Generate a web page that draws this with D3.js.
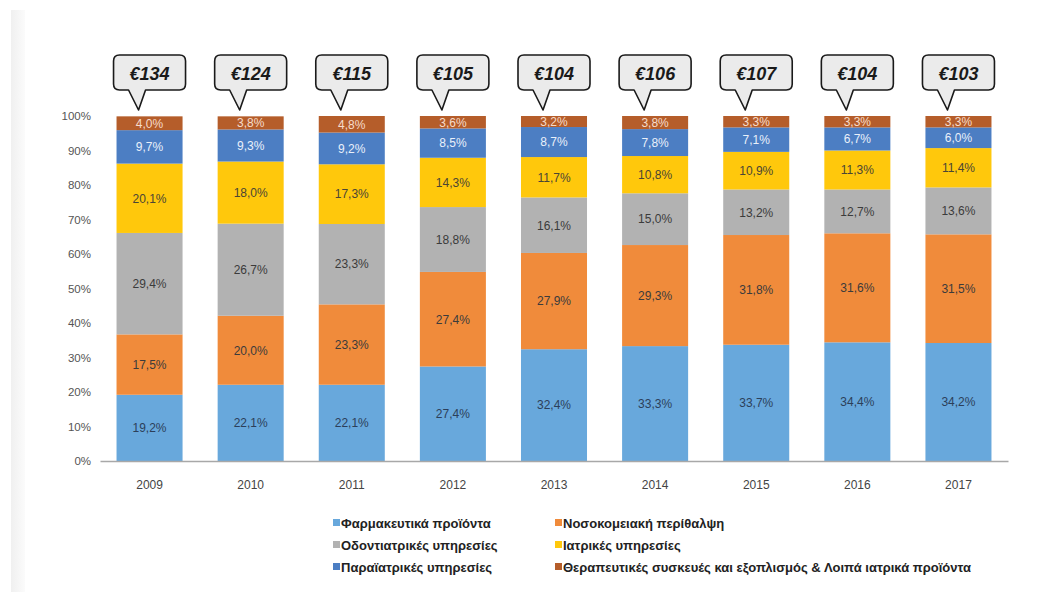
<!DOCTYPE html>
<html>
<head>
<meta charset="utf-8">
<script src="https://cdn.jsdelivr.net/npm/d3@7"></script>
<style>
  html, body { margin: 0; padding: 0; background: #fff; }
  svg { display: block; }
</style>
</head>
<body>
<svg id="chart" width="1038" height="592"></svg>
<script>
const years = ["2009","2010","2011","2012","2013","2014","2015","2016","2017"];
const perCapita = [134, 124, 115, 105, 104, 106, 107, 104, 103];
const seriesNames = [
  "Φαρμακευτικά προϊόντα",
  "Νοσοκομειακή περίθαλψη",
  "Οδοντιατρικές υπηρεσίες",
  "Ιατρικές υπηρεσίες",
  "Παραϊατρικές υπηρεσίες",
  "Θεραπευτικές συσκευές και εξοπλισμός & Λοιπά ιατρικά προϊόντα"
];
const pharma      = [19.2, 22.1, 22.1, 27.4, 32.4, 33.3, 33.7, 34.4, 34.2];
const hospital    = [17.5, 20.0, 23.3, 27.4, 27.9, 29.3, 31.8, 31.6, 31.5];
const dental      = [29.4, 26.7, 23.3, 18.8, 16.1, 15.0, 13.2, 12.7, 13.6];
const medical     = [20.1, 18.0, 17.3, 14.3, 11.7, 10.8, 10.9, 11.3, 11.4];
const paramedical = [9.7, 9.3, 9.2, 8.5, 8.7, 7.8, 7.1, 6.7, 6.0];
const therapeutic = [4.0, 3.8, 4.8, 3.6, 3.2, 3.8, 3.3, 3.3, 3.3];
const yTicks = [0, 10, 20, 30, 40, 50, 60, 70, 80, 90, 100];

const seriesValues = [pharma, hospital, dental, medical, paramedical, therapeutic];
const colors = ["#68a8dc", "#f08b3b", "#b2b2b2", "#ffc80c", "#4c7ec3", "#b55d2a"];
const labelColors = ["#2c3f5a", "#3b3b3b", "#3b3b3b", "#4a4536", "#e9f0fa", "#f6dccb"];

const keys = seriesNames.map((_, i) => "s" + i);
const table = years.map((y, j) => {
  const row = { year: y };
  keys.forEach((k, i) => row[k] = seriesValues[i][j]);
  return row;
});

const svg = d3.select("#chart");

// left page strip
const defs = svg.append("defs");
const g1 = defs.append("linearGradient").attr("id", "strip").attr("x1", "0").attr("x2", "1");
g1.append("stop").attr("offset", "0").attr("stop-color", "#f0f0f0");
g1.append("stop").attr("offset", "1").attr("stop-color", "#fbfbfb");
svg.append("rect").attr("x", 11).attr("y", 10).attr("width", 14).attr("height", 582).attr("fill", "url(#strip)");

const x = d3.scaleBand().domain(years).range([100, 1008]).paddingInner(0.347).paddingOuter(0.1635);
const y = d3.scaleLinear().domain([0, 100]).range([461, 116]);

const stack = d3.stack().keys(keys);
const stacked = stack(table);

// bars
const layers = svg.append("g").selectAll("g").data(stacked).join("g")
  .attr("fill", (d, i) => colors[i]);
layers.selectAll("rect").data(d => d).join("rect")
  .attr("x", d => x(d.data.year))
  .attr("y", d => y(Math.min(d[1], 100)))
  .attr("width", x.bandwidth())
  .attr("height", d => y(d[0]) - y(Math.min(d[1], 100)));

// value labels
const lab = svg.append("g").attr("font-family", "Liberation Sans, Arial, sans-serif").attr("font-size", 12)
  .attr("text-anchor", "middle");
stacked.forEach((layer, i) => {
  lab.selectAll(null).data(layer).join("text")
    .attr("x", d => x(d.data.year) + x.bandwidth() / 2)
    .attr("y", d => y((d[0] + Math.min(d[1], 100)) / 2))
    .attr("dy", "0.36em")
    .attr("fill", labelColors[i])
    .text(d => (d[1] - d[0]).toFixed(1).replace(".", ",") + "%");
});

// x axis
const xAxis = svg.append("g").attr("transform", `translate(0,${y(0)})`)
  .call(d3.axisBottom(x).tickSize(0).tickPadding(19));
xAxis.select(".domain").attr("stroke", "#a8a8a8").attr("stroke-width", 1.5);
xAxis.selectAll("text").attr("font-family", "Liberation Sans, Arial, sans-serif").attr("font-size", 12).attr("fill", "#444");

// y axis
const yAxis = svg.append("g").attr("transform", "translate(91,0)")
  .call(d3.axisLeft(y).tickValues(yTicks).tickSize(0).tickPadding(0).tickFormat(d => d + "%"));
yAxis.select(".domain").remove();
yAxis.selectAll("text").attr("font-family", "Liberation Sans, Arial, sans-serif").attr("font-size", 11.5).attr("fill", "#555");

// callouts
const bubbleTop = 55, bubbleBottom = 90, bubbleHalfW = 36, r = 6;
const callouts = svg.append("g").selectAll("g").data(years).join("g")
  .attr("transform", d => `translate(${x(d) + x.bandwidth() / 2},0)`);
callouts.append("path")
  .attr("d", () => {
    const l = -bubbleHalfW, rt = bubbleHalfW, t = bubbleTop, b = bubbleBottom;
    return `M${l + r},${t} H${rt - r} Q${rt},${t} ${rt},${t + r} V${b - r} Q${rt},${b} ${rt - r},${b}` +
      ` H-4 L-11,110 L-21,${b} H${l + r} Q${l},${b} ${l},${b - r} V${t + r} Q${l},${t} ${l + r},${t} Z`;
  })
  .attr("fill", "#ebebeb").attr("stroke", "#1a1a1a").attr("stroke-width", 1.6).attr("stroke-linejoin", "round");
callouts.append("text")
  .attr("x", 0).attr("y", 80).attr("text-anchor", "middle")
  .attr("font-family", "Liberation Sans, Arial, sans-serif").attr("font-weight", "bold").attr("font-style", "italic")
  .attr("font-size", 18).attr("fill", "#1a1a1a")
  .text((d, i) => "€" + perCapita[i]);

// legend
const legendOrder = [0, 1, 2, 3, 4, 5];
const legend = svg.append("g").attr("font-family", "Liberation Sans, Arial, sans-serif").attr("font-size", 13);
legendOrder.forEach((si, k) => {
  const col = k % 2, row = Math.floor(k / 2);
  const lx = col === 0 ? 333 : 555, ly = 523 + row * 22;
  legend.append("rect").attr("x", lx).attr("y", ly - 4).attr("width", 7).attr("height", 7).attr("fill", colors[si]);
  legend.append("text").attr("x", lx + 8).attr("y", ly).attr("dy", "0.35em").attr("fill", "#222")
    .attr("font-weight", "bold")
    .text(seriesNames[si]);
});
</script>
</body>
</html>
